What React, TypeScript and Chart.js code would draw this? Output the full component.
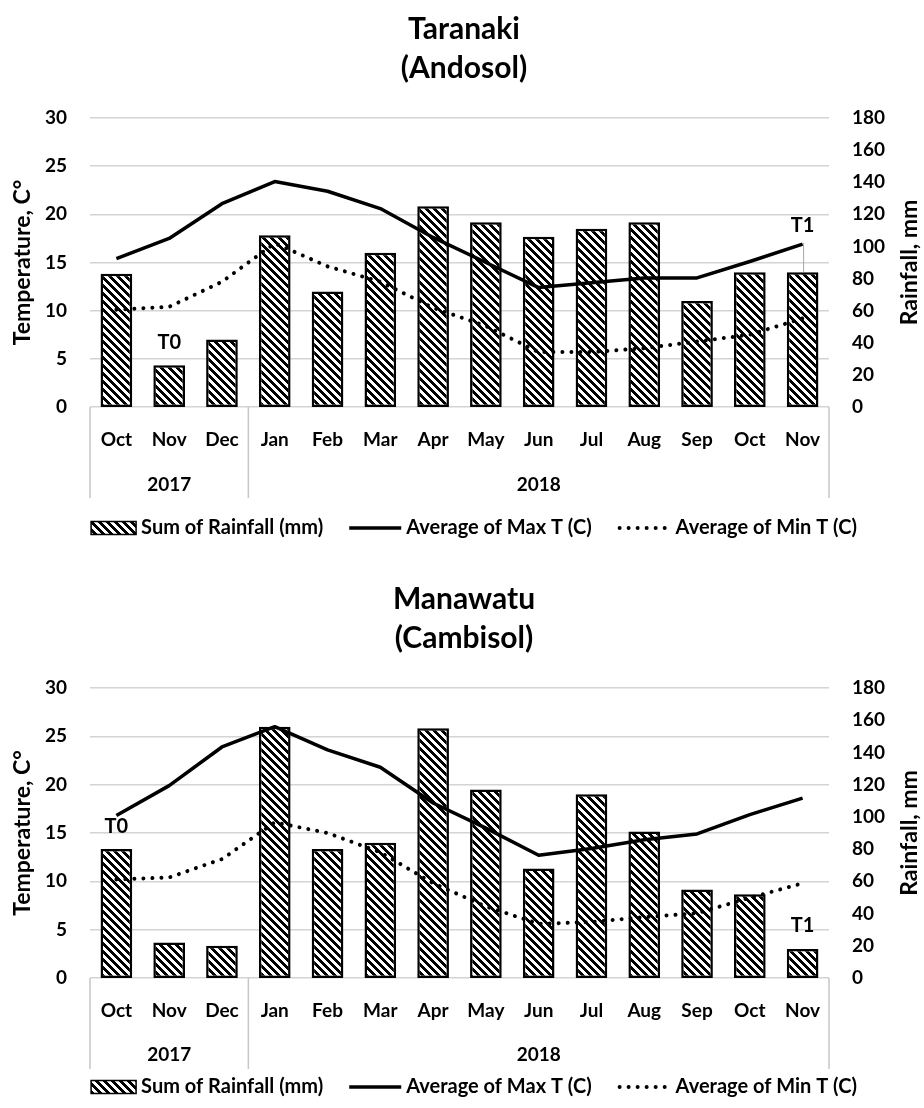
import React, { useEffect, useRef } from 'react';
import { Chart, registerables } from 'chart.js';

Chart.register(...registerables);

const months = ['Oct', 'Nov', 'Dec', 'Jan', 'Feb', 'Mar', 'Apr', 'May', 'Jun', 'Jul', 'Aug', 'Sep', 'Oct', 'Nov'];
const yearLabels = ['2017', '2018'];
const yearSpans = [3, 11];

const tempMin = 0;
const tempMax = 30;
const tempStep = 5;
const rainMin = 0;
const rainMax = 180;
const rainStep = 20;

const taranakiRain = [83, 26, 42, 107, 72, 96, 125, 115, 106, 111, 115, 66, 84, 84];
const taranakiMaxT = [15.4, 17.5, 21.1, 23.4, 22.4, 20.6, 17.6, 15.0, 12.4, 12.9, 13.4, 13.4, 15.1, 16.9];
const taranakiMinT = [10.1, 10.4, 13.0, 17.0, 14.6, 13.0, 10.3, 8.4, 5.7, 5.7, 6.1, 6.8, 7.5, 9.2];
const taranakiBarLabels = ['', 'T0', '', '', '', '', '', '', '', '', '', '', '', 'T1'];

const manawatuRain = [80, 22, 20, 156, 80, 84, 155, 117, 68, 114, 91, 55, 52, 18];
const manawatuMaxT = [16.8, 19.9, 23.9, 26.0, 23.6, 21.8, 18.1, 15.5, 12.7, 13.4, 14.3, 14.9, 16.9, 18.6];
const manawatuMinT = [10.2, 10.4, 12.3, 16.1, 15.0, 13.0, 9.8, 7.4, 5.6, 5.8, 6.3, 6.7, 8.3, 9.8];
const manawatuBarLabels = ['T0', '', '', '', '', '', '', '', '', '', '', '', '', 'T1'];

const taranakiTitle = ['Taranaki', '(Andosol)'];
const manawatuTitle = ['Manawatu', '(Cambisol)'];
const legendLabels = ['Sum of Rainfall (mm)', 'Average of Max T (C)', 'Average of Min T (C)'];
const leftAxisTitle = 'Temperature, C°';
const rightAxisTitle = 'Rainfall, mm';

const FONT = 'Lato, "Open Sans", "DejaVu Sans", sans-serif';
const W = 924;
const H = 554;

function makeHatch(): CanvasPattern | string {
  const c = document.createElement('canvas');
  c.width = 8;
  c.height = 8;
  const g = c.getContext('2d');
  if (!g) return '#888';
  g.fillStyle = '#fff';
  g.fillRect(0, 0, 8, 8);
  g.fillStyle = '#000';
  for (let y = 0; y < 8; y++) {
    for (let x = 0; x < 8; x++) {
      if ((((x - y) % 8) + 8) % 8 < 4) g.fillRect(x, y, 1, 1);
    }
  }
  return g.createPattern(c, 'repeat') || '#888';
}

type PanelProps = {
  title: string[];
  rain: number[];
  maxT: number[];
  minT: number[];
  barLabels: string[];
  plotTop: number;
  plotBottom: number;
  titleBaseline: number;
  yearGap: number;
  legendY: number;
  liftIndex: number;
  lift: number;
};

function Panel(p: PanelProps) {
  const ref = useRef<HTMLCanvasElement | null>(null);

  useEffect(() => {
    const canvas = ref.current;
    if (!canvas) return;
    const hatch = makeHatch();
    const axisH = 91;

    const decor = {
      id: 'decor',
      afterDraw(chart: any) {
        const ctx: CanvasRenderingContext2D = chart.ctx;
        const a = chart.chartArea;
        const xs = chart.scales.x;
        ctx.save();
        ctx.fillStyle = '#000';

        // Title
        ctx.textAlign = 'center';
        ctx.textBaseline = 'alphabetic';
        ctx.font = `bold 30px ${FONT}`;
        p.title.forEach((t, i) => ctx.fillText(t, 464, p.titleBaseline + i * 39));

        // Axis titles
        const midY = (a.top + a.bottom) / 2;
        ctx.font = `bold 23px ${FONT}`;
        ctx.textBaseline = 'middle';
        ctx.save();
        ctx.translate(23, midY);
        ctx.rotate(-Math.PI / 2);
        ctx.fillText(leftAxisTitle, 0, 0);
        ctx.restore();
        ctx.save();
        ctx.translate(910, midY);
        ctx.rotate(-Math.PI / 2);
        ctx.fillText(rightAxisTitle, 0, 0);
        ctx.restore();

        // Category box lines and year labels
        ctx.strokeStyle = '#c6c6c6';
        ctx.lineWidth = 1.5;
        const bounds: number[] = [a.left];
        let idx = 0;
        yearSpans.forEach((span, gi) => {
          idx += span;
          if (gi < yearSpans.length - 1) {
            bounds.push((xs.getPixelForValue(idx - 1) + xs.getPixelForValue(idx)) / 2);
          }
        });
        bounds.push(a.right);
        bounds.forEach((bx) => {
          ctx.beginPath();
          ctx.moveTo(bx, a.bottom);
          ctx.lineTo(bx, a.bottom + axisH);
          ctx.stroke();
        });
        ctx.font = `bold 19px ${FONT}`;
        ctx.textBaseline = 'middle';
        yearLabels.forEach((yl, i) => {
          ctx.fillText(yl, (bounds[i] + bounds[i + 1]) / 2, a.bottom + p.yearGap);
        });

        // Bar data labels
        const meta = chart.getDatasetMeta(0);
        ctx.font = `bold 20px ${FONT}`;
        p.barLabels.forEach((lab, i) => {
          if (!lab) return;
          const el = meta.data[i];
          const lift = i === p.liftIndex ? p.lift : 0;
          const ly = el.y - 23 - lift;
          if (lift > 0) {
            ctx.strokeStyle = '#a6a6a6';
            ctx.lineWidth = 1;
            ctx.beginPath();
            ctx.moveTo(el.x + 1, ly + 18);
            ctx.lineTo(el.x + 1, el.y);
            ctx.stroke();
          }
          ctx.fillStyle = '#000';
          ctx.fillText(lab, el.x, ly);
        });

        // Legend
        ctx.font = `bold 20px ${FONT}`;
        const symW = [45, 52, 53];
        const symGap = 5;
        const itemGap = 26;
        const textW = legendLabels.map((t) => ctx.measureText(t).width);
        let total = 0;
        textW.forEach((tw, i) => {
          total += symW[i] + symGap + tw;
        });
        total += itemGap * (legendLabels.length - 1);
        let lx = 474 - total / 2;
        const ly = p.legendY;
        legendLabels.forEach((t, i) => {
          if (i === 0) {
            ctx.fillStyle = hatch as any;
            ctx.fillRect(lx, ly - 6.5, symW[i], 13);
            ctx.strokeStyle = '#000';
            ctx.lineWidth = 1.5;
            ctx.setLineDash([]);
            ctx.strokeRect(lx, ly - 6.5, symW[i], 13);
          } else {
            ctx.strokeStyle = '#000';
            ctx.lineWidth = i === 1 ? 3.5 : 4;
            ctx.lineCap = i === 1 ? 'butt' : 'round';
            ctx.setLineDash(i === 1 ? [] : [0.01, 9]);
            ctx.beginPath();
            ctx.moveTo(lx + (i === 1 ? 0 : 2), ly);
            ctx.lineTo(lx + symW[i], ly);
            ctx.stroke();
            ctx.setLineDash([]);
            ctx.lineCap = 'butt';
          }
          ctx.fillStyle = '#000';
          ctx.textAlign = 'left';
          ctx.fillText(t, lx + symW[i] + symGap, ly);
          lx += symW[i] + symGap + textW[i] + itemGap;
        });
        ctx.restore();
      },
    };

    const tickFont = { family: FONT, size: 19, weight: 'bold' as const };

    const chart = new Chart(canvas, {
      type: 'bar',
      data: {
        labels: months,
        datasets: [
          {
            type: 'bar',
            label: legendLabels[0],
            data: p.rain,
            yAxisID: 'y1',
            backgroundColor: hatch as any,
            borderColor: '#000',
            borderWidth: 2.5,
            borderSkipped: false,
            barPercentage: 0.6,
            categoryPercentage: 1,
            order: 3,
          },
          {
            type: 'line',
            label: legendLabels[1],
            data: p.maxT,
            yAxisID: 'y',
            borderColor: '#000',
            borderWidth: 3.5,
            pointRadius: 0,
            tension: 0,
            fill: false,
            borderJoinStyle: 'round',
            order: 1,
          },
          {
            type: 'line',
            label: legendLabels[2],
            data: p.minT,
            yAxisID: 'y',
            borderColor: '#000',
            borderWidth: 4,
            borderDash: [0.01, 9],
            borderCapStyle: 'round',
            pointRadius: 0,
            tension: 0,
            fill: false,
            order: 2,
          },
        ] as any,
      },
      options: {
        responsive: false,
        animation: false,
        devicePixelRatio: 1,
        layout: {
          padding: { top: p.plotTop, bottom: H - p.plotBottom - axisH, left: 0, right: 0 },
        },
        plugins: {
          legend: { display: false },
          tooltip: { enabled: false },
          title: { display: false },
        },
        scales: {
          x: {
            grid: { display: false, drawTicks: false },
            border: { display: false },
            ticks: { font: tickFont, color: '#000', padding: 21, maxRotation: 0, autoSkip: false },
            afterFit: (s: any) => {
              s.height = axisH;
            },
          },
          y: {
            position: 'left',
            min: tempMin,
            max: tempMax,
            ticks: { stepSize: tempStep, font: tickFont, color: '#000', padding: 23 },
            grid: { color: '#d4d4d4', lineWidth: 1.5, drawTicks: false },
            border: { display: false },
            afterFit: (s: any) => {
              s.width = 90;
            },
          },
          y1: {
            position: 'right',
            min: rainMin,
            max: rainMax,
            ticks: { stepSize: rainStep, font: tickFont, color: '#000', padding: 23 },
            grid: { display: false, drawTicks: false },
            border: { display: false },
            afterFit: (s: any) => {
              s.width = 95;
            },
          },
        },
      } as any,
      plugins: [decor],
    });

    return () => {
      chart.destroy();
    };
  }, []);

  return <canvas ref={ref} width={W} height={H} style={{ display: 'block', width: W, height: H }} />;
}

export default function App() {
  return (
    <div style={{ position: 'absolute', left: 0, top: 0, width: W, height: 2 * H, background: '#fff' }}>
      <Panel
        title={taranakiTitle}
        rain={taranakiRain}
        maxT={taranakiMaxT}
        minT={taranakiMinT}
        barLabels={taranakiBarLabels}
        plotTop={118}
        plotBottom={407}
        titleBaseline={39}
        yearGap={78}
        legendY={528}
        liftIndex={13}
        lift={24}
      />
      <Panel
        title={manawatuTitle}
        rain={manawatuRain}
        maxT={manawatuMaxT}
        minT={manawatuMinT}
        barLabels={manawatuBarLabels}
        plotTop={134}
        plotBottom={424}
        titleBaseline={55}
        yearGap={77}
        legendY={533}
        liftIndex={-1}
        lift={0}
      />
    </div>
  );
}
